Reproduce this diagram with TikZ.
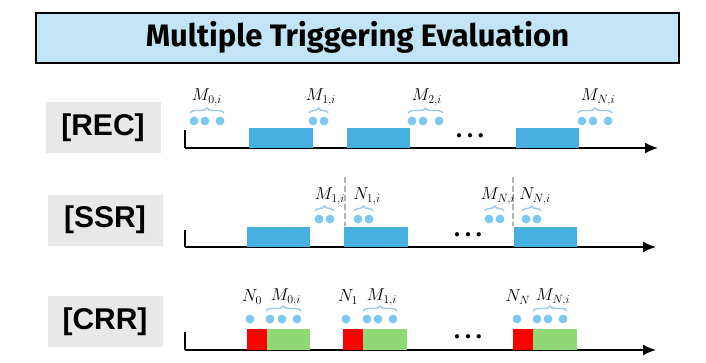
\documentclass[tikz,border=0pt]{standalone}
\usepackage{fontspec}
\setsansfont{Liberation Sans}
\newfontfamily\titlefont{Fira Sans}
\usetikzlibrary{decorations.pathreplacing,arrows.meta}

\definecolor{titlefill}{HTML}{C3E4F4}
\definecolor{tagfill}{HTML}{E8E8E8}
\definecolor{slotblue}{HTML}{47B0E0}
\definecolor{dotblue}{HTML}{7CC8EE}
\definecolor{braceblue}{HTML}{9CC6EC}
\definecolor{redslot}{HTML}{FF0000}
\definecolor{greenslot}{HTML}{8FD873}

\tikzset{
	tag/.style={fill=tagfill, minimum width=115, minimum height=51, inner sep=0pt,
		font=\sffamily\bfseries\fontsize{30}{34}\selectfont},
	timeaxis/.style={line width=1.8pt, -{Latex[length=13pt,width=11pt]}},
	tick/.style={line width=1.8pt},
	slot/.style={fill=slotblue},
	query/.style={fill=dotblue},
	grp/.style={braceblue, line width=1.4pt, decorate, decoration={brace, amplitude=5pt}},
	lbl/.style={inner sep=0pt, font=\fontsize{17}{20}\selectfont},
	gap/.style={inner sep=0pt, font=\fontsize{11}{12}\selectfont},
	cut/.style={gray!60, dashed, dash pattern=on 6pt off 3pt, line width=1.5pt}
}

\begin{document}
\begin{tikzpicture}[x=1pt, y=-1pt]
	\useasboundingbox (0,0) rectangle (706,362);

	% Titel
	\node[draw, line width=2pt, fill=titlefill, minimum width=643, minimum height=50,
		inner sep=0pt] (title) at (357.5,37.5)
		{\titlefont\bfseries\fontsize{31}{34}\selectfont Multiple Triggering Evaluation};

	% REC
	\node[tag] (rec) at (103,127.5) {[REC]};
	\begin{scope}[shift={(0,148)}]
		\coordinate (recO) at (185,0);
		\coordinate (recT) at (185,-18);
		\coordinate (recE) at (658,0);
		\draw[tick] (recT) -- (recO);
		\draw[timeaxis] (recO) -- (recE);
		\fill[slot] (249,-20) rectangle (313,0);
		\fill[slot] (347,-20) rectangle (410,0);
		\fill[slot] (516,-20) rectangle (579,0);
		\node[gap] (recdots) at (470,-12) {$\bullet\hspace{3pt}\bullet\hspace{3pt}\bullet$};

		\foreach \x in {194,205,220} \fill[query] (\x,-27) circle (4.4);
		\draw[grp] (190,-35) -- (224,-35);
		\node[lbl] (recm0) at (207,-51) {$M_{0,i}$};

		\foreach \x in {313,324} \fill[query] (\x,-27) circle (4.4);
		\draw[grp] (309,-35) -- (328,-35);
		\node[lbl] (recm1) at (321,-51) {$M_{1,i}$};

		\foreach \x in {412,423,439} \fill[query] (\x,-27) circle (4.4);
		\draw[grp] (408,-35) -- (443,-35);
		\node[lbl] (recm2) at (427,-51) {$M_{2,i}$};

		\foreach \x in {582,593,608} \fill[query] (\x,-27) circle (4.4);
		\draw[grp] (578,-35) -- (612,-35);
		\node[lbl] (recmn) at (598,-51) {$M_{N,i}$};
	\end{scope}

	% SSR
	\node[tag] (ssr) at (105,220) {[SSR]};
	\begin{scope}[shift={(0,247)}]
		\coordinate (ssrO) at (185,0);
		\coordinate (ssrT) at (185,-17);
		\coordinate (ssrE) at (656,0);
		\draw[tick] (ssrT) -- (ssrO);
		\draw[timeaxis] (ssrO) -- (ssrE);
		\fill[slot] (247,-20) rectangle (310,0);
		\fill[slot] (344,-20) rectangle (408,0);
		\fill[slot] (514,-20) rectangle (577,0);
		\node[gap] (ssrdots) at (468,-12) {$\bullet\hspace{3pt}\bullet\hspace{3pt}\bullet$};

		\draw[cut] (345,-70) -- (345,-21);
		\draw[cut] (513,-70) -- (513,-21);

		\foreach \x in {319,330} \fill[query] (\x,-28) circle (4.4);
		\draw[grp] (315,-36) -- (334,-36);
		\node[lbl] (ssrm1) at (330,-51) {$M_{1,i}$};
		\foreach \x in {358,369} \fill[query] (\x,-28) circle (4.4);
		\draw[grp] (354,-36) -- (373,-36);
		\node[lbl] (ssrn1) at (367,-51) {$N_{1,i}$};

		\foreach \x in {489,500} \fill[query] (\x,-28) circle (4.4);
		\draw[grp] (485,-36) -- (504,-36);
		\node[lbl] (ssrmn) at (498,-51) {$M_{N,i}$};
		\foreach \x in {526,537} \fill[query] (\x,-28) circle (4.4);
		\draw[grp] (522,-36) -- (541,-36);
		\node[lbl] (ssrnn) at (535,-51) {$N_{N,i}$};
	\end{scope}

	% CRR
	\node[tag] (crr) at (105,321.5) {[CRR]};
	\begin{scope}[shift={(0,350)}]
		\coordinate (crrO) at (185,0);
		\coordinate (crrT) at (185,-18);
		\coordinate (crrE) at (656,0);
		\draw[tick] (crrT) -- (crrO);
		\draw[timeaxis] (crrO) -- (crrE);
		\fill[redslot] (247,-21) rectangle (267,0);
		\fill[greenslot] (267,-21) rectangle (310,0);
		\fill[redslot] (343,-21) rectangle (363,0);
		\fill[greenslot] (363,-21) rectangle (407,0);
		\fill[redslot] (513,-21) rectangle (533,0);
		\fill[greenslot] (533,-21) rectangle (577,0);
		\node[gap] (crrdots) at (468,-13) {$\bullet\hspace{3pt}\bullet\hspace{3pt}\bullet$};

		\fill[query] (250,-31) circle (4.4);
		\node[lbl] (crrn0) at (252,-53) {$N_{0}$};
		\foreach \x in {270,282,297} \fill[query] (\x,-31) circle (4.4);
		\draw[grp] (266,-39) -- (301,-39);
		\node[lbl] (crrm0) at (286,-53) {$M_{0,i}$};

		\fill[query] (346,-31) circle (4.4);
		\node[lbl] (crrn1) at (348,-53) {$N_{1}$};
		\foreach \x in {367,378,393} \fill[query] (\x,-31) circle (4.4);
		\draw[grp] (363,-39) -- (397,-39);
		\node[lbl] (crrm1) at (382,-53) {$M_{1,i}$};

		\fill[query] (517,-31) circle (4.4);
		\node[lbl] (crrnn) at (518,-53) {$N_{N}$};
		\foreach \x in {537,548,563} \fill[query] (\x,-31) circle (4.4);
		\draw[grp] (533,-39) -- (567,-39);
		\node[lbl] (crrmn) at (553,-53) {$M_{N,i}$};
	\end{scope}
\end{tikzpicture}
\end{document}
